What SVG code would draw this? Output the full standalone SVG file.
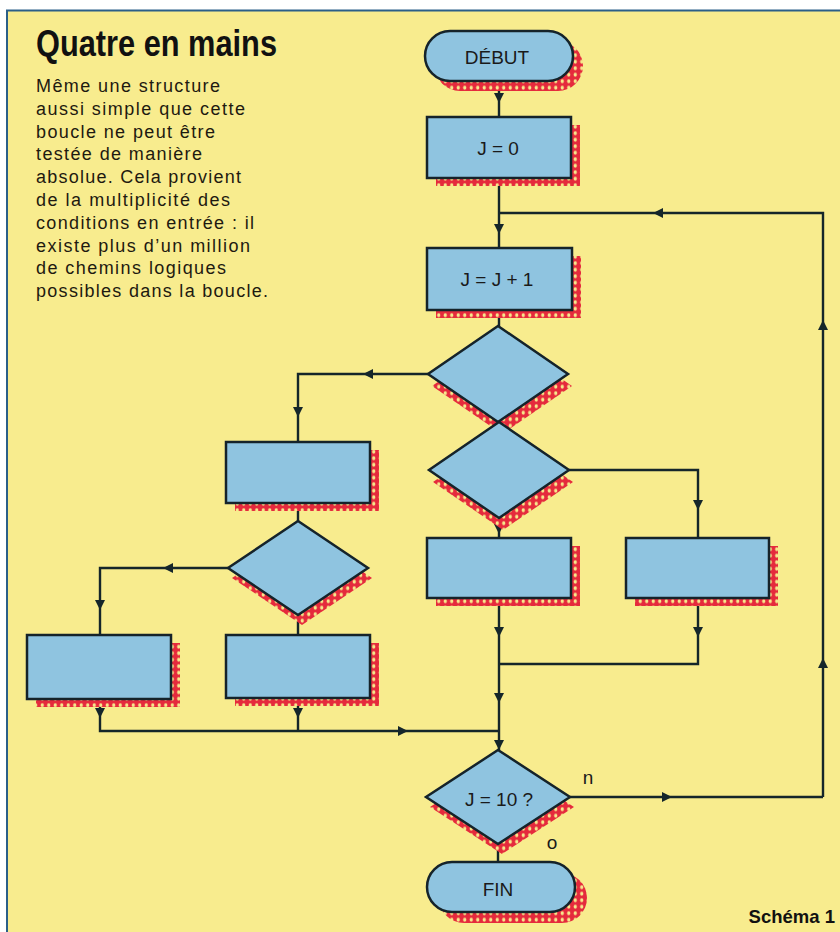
<svg xmlns="http://www.w3.org/2000/svg" xmlns:xlink="http://www.w3.org/1999/xlink" width="840" height="932" viewBox="0 0 840 932">
<style>
.node{fill:#8fc4e0;stroke:#15232a;stroke-width:2.5;stroke-linejoin:miter}
.shadow{fill:url(#mesh)}
.conn{fill:none;stroke:#15262a;stroke-width:2.4}
.ah{fill:#15262a}
.lbl{font-family:"Liberation Sans",Arial,sans-serif;font-size:19px;fill:#1a1a1a;text-anchor:middle}
.body{font-family:"Liberation Sans",Arial,sans-serif;font-size:18px;fill:#1e1a10}
.title{font-family:"Liberation Sans",Arial,sans-serif;font-size:36px;font-weight:bold;fill:#111}
</style>
<defs>
<pattern id="mesh" width="6.5" height="6.5" patternUnits="userSpaceOnUse">
<rect width="6.5" height="6.5" fill="#e52a3c"/>
<ellipse cx="3.25" cy="3.25" rx="1.6" ry="2" fill="#f6e98c"/>
</pattern>
<path id="ad" d="M0,0 L-5,-10 L5,-10 Z"/>
<path id="au" d="M0,0 L-5,10 L5,10 Z"/>
<path id="al" d="M0,0 L10,-5 L10,5 Z"/>
<path id="ar" d="M0,0 L-10,-5 L-10,5 Z"/>
</defs>
<rect width="840" height="932" fill="#ffffff"/>
<rect x="7" y="10" width="833" height="922" fill="#f8ec8e"/>
<path d="M7,932 V10.5 H840" fill="none" stroke="#2b5f88" stroke-width="2"/>

<g id="caption">
<text class="title" x="36" y="56" textLength="241" lengthAdjust="spacingAndGlyphs">Quatre en mains</text>
<text class="body" x="36" y="92" textLength="184">Même une structure</text>
<text class="body" x="36" y="115" textLength="209">aussi simple que cette</text>
<text class="body" x="36" y="138" textLength="179">boucle ne peut être</text>
<text class="body" x="36" y="160" textLength="166">testée de manière</text>
<text class="body" x="36" y="183" textLength="205">absolue. Cela provient</text>
<text class="body" x="36" y="206" textLength="194">de la multiplicité des</text>
<text class="body" x="36" y="229" textLength="218">conditions en entrée : il</text>
<text class="body" x="36" y="252" textLength="214">existe plus d’un million</text>
<text class="body" x="36" y="274" textLength="190">de chemins logiques</text>
<text class="body" x="36" y="297" textLength="232">possibles dans la boucle.</text>
</g>

<g id="connectors">
<path class="conn" d="M499,81 V117"/>
<path class="conn" d="M499,178 V248"/>
<path class="conn" d="M823,797 V213 H499"/>
<path class="conn" d="M499,310 V326"/>
<path class="conn" d="M428,374 H298 V442"/>
<path class="conn" d="M569,470 H698 V538"/>
<path class="conn" d="M499,518 V538"/>
<path class="conn" d="M298,503 V521"/>
<path class="conn" d="M228,568 H100 V635"/>
<path class="conn" d="M298,615 V635"/>
<path class="conn" d="M100,699 V731 H499"/>
<path class="conn" d="M298,698 V731"/>
<path class="conn" d="M499,598 V750"/>
<path class="conn" d="M698,598 V664 H499"/>
<path class="conn" d="M570,797 H823"/>
<path class="conn" d="M498,844 V862"/>
<g class="ah">
<use href="#ad" x="499" y="103"/>
<use href="#ad" x="499" y="234"/>
<use href="#al" x="653" y="213"/>
<use href="#au" x="823" y="320"/>
<use href="#au" x="823" y="658"/>
<use href="#al" x="363" y="374"/>
<use href="#ad" x="298" y="417"/>
<use href="#ad" x="499" y="534"/>
<use href="#ad" x="698" y="510"/>
<use href="#ad" x="499" y="637"/>
<use href="#ad" x="698" y="637"/>
<use href="#ad" x="499" y="703"/>
<use href="#ar" x="408" y="731"/>
<use href="#ad" x="499" y="750"/>
<use href="#al" x="163" y="568"/>
<use href="#ad" x="100" y="610"/>
<use href="#ad" x="100" y="718"/>
<use href="#ad" x="298" y="718"/>
<use href="#ar" x="672" y="797"/>
</g>
</g>

<g id="debut">
<rect class="shadow" x="435" y="41" width="148" height="50" rx="25"/>
<rect class="node" x="425" y="31" width="148" height="50" rx="25"/>
<text class="lbl" x="497" y="64">DÉBUT</text>
</g>
<g id="j0">
<rect class="shadow" x="436" y="125" width="144" height="61"/>
<rect class="node" x="427" y="117" width="144" height="61"/>
<text class="lbl" x="498" y="155">J = 0</text>
</g>
<g id="jinc">
<rect class="shadow" x="436" y="256" width="145" height="62"/>
<rect class="node" x="427" y="248" width="145" height="62"/>
<text class="lbl" x="497" y="286">J = J + 1</text>
</g>
<g id="d1">
<polygon class="shadow" points="502,338 572,386 502,434 432,386"/>
<polygon class="node" points="498,326 568,374 498,422 428,374"/>
</g>
<g id="d2">
<polygon class="shadow" points="503,434 573,482 503,530 433,482"/>
<polygon class="node" points="499,422 569,470 499,518 429,470"/>
</g>
<g id="boxA">
<rect class="shadow" x="235" y="450" width="144" height="61"/>
<rect class="node" x="226" y="442" width="144" height="61"/>
</g>
<g id="boxM">
<rect class="shadow" x="436" y="546" width="144" height="60"/>
<rect class="node" x="427" y="538" width="144" height="60"/>
</g>
<g id="boxR">
<rect class="shadow" x="635" y="546" width="143" height="60"/>
<rect class="node" x="626" y="538" width="143" height="60"/>
</g>
<g id="d3">
<polygon class="shadow" points="302,531 372,578 302,625 232,578"/>
<polygon class="node" points="298,521 368,568 298,615 228,568"/>
</g>
<g id="boxB">
<rect class="shadow" x="36" y="643" width="144" height="64"/>
<rect class="node" x="27" y="635" width="144" height="64"/>
</g>
<g id="boxC">
<rect class="shadow" x="235" y="643" width="144" height="63"/>
<rect class="node" x="226" y="635" width="144" height="63"/>
</g>
<g id="d4">
<polygon class="shadow" points="502,760 574,807 502,854 430,807"/>
<polygon class="node" points="498,750 570,797 498,844 426,797"/>
<text class="lbl" x="499" y="806">J = 10 ?</text>
</g>
<g id="fin">
<rect class="shadow" x="439" y="873" width="148" height="50" rx="25"/>
<rect class="node" x="427" y="862" width="148" height="50" rx="25"/>
<text class="lbl" x="498" y="896">FIN</text>
</g>
<text class="lbl" x="588" y="784">n</text>
<text class="lbl" x="552" y="849">o</text>
<text x="835" y="923" style="font-family:'Liberation Sans',Arial,sans-serif;font-size:18.5px;font-weight:bold;fill:#111;text-anchor:end">Schéma 1</text>
</svg>
